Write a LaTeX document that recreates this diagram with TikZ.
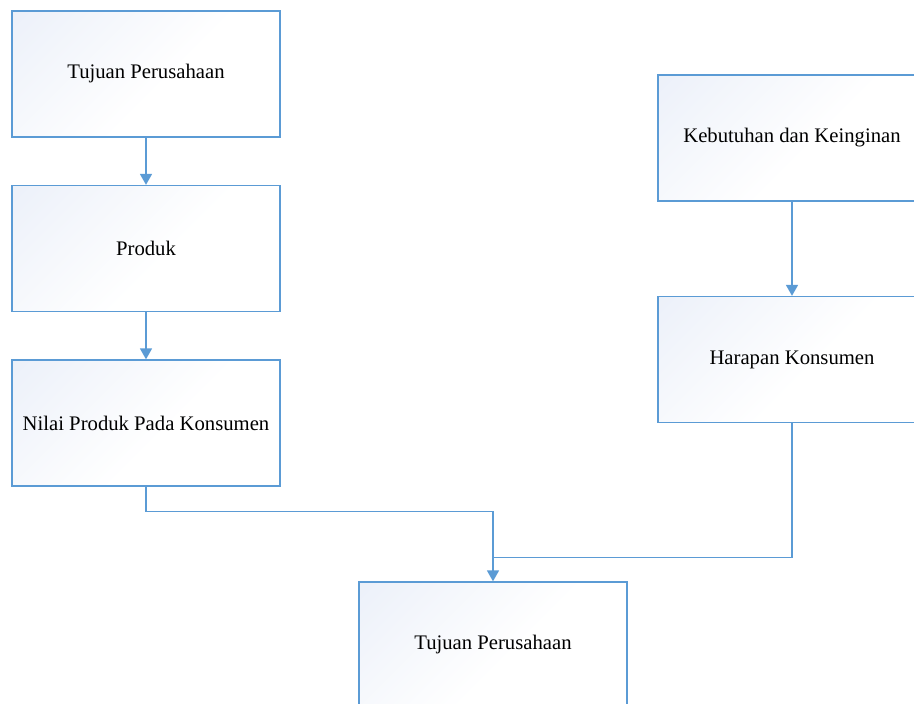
\documentclass[tikz,border=0pt]{standalone}
\usepackage{fontspec}
\setmainfont{Liberation Serif}
\usetikzlibrary{arrows.meta}
\definecolor{edgeblue}{RGB}{91,155,213}
\definecolor{fillblue}{RGB}{229,235,247}
% soft diagonal fill: tinted corner fading quickly to white
\pgfdeclareverticalshading{boxshade}{100bp}{%
  color(0bp)=(white); color(45bp)=(white);
  color(70bp)=(fillblue!45!white); color(100bp)=(fillblue)}
\tikzset{
  stepbox/.style={draw=edgeblue, line width=1.3pt, rectangle,
    minimum width=268pt, minimum height=126pt, inner sep=0pt,
    shade, shading=boxshade, shading angle=45,
    font=\fontsize{20.7pt}{24pt}\selectfont, text=black},
  link/.style={draw=edgeblue, line width=1.6pt},
  arr/.style={link, -{Triangle[length=11pt,width=12pt]}}
}
\begin{document}
\begin{tikzpicture}[x=1pt,y=-1pt]
\useasboundingbox (0,0) rectangle (914,704);
% left column
\node[stepbox] (t1) at (146,74) {Tujuan Perusahaan};
\node[stepbox] (pr) at (146,248.5) {Produk};
\node[stepbox] (nk) at (146,423) {Nilai Produk Pada Konsumen};
% right column
\node[stepbox] (kk) at (792,138) {Kebutuhan dan Keinginan};
\node[stepbox] (hk) at (792,359.5) {Harapan Konsumen};
% result
\node[stepbox] (t2) at (493,645) {Tujuan Perusahaan};
% connectors
\draw[arr] (t1.south) -- (pr.north);
\draw[arr] (pr.south) -- (nk.north);
\draw[arr] (kk.south) -- (hk.north);
\coordinate (j) at ([yshift=24pt]t2.north);
\draw[arr] (nk.south) -- ++(0,25) -| (t2.north);
\draw[link] (hk.south) |- (j);
\end{tikzpicture}
\end{document}
